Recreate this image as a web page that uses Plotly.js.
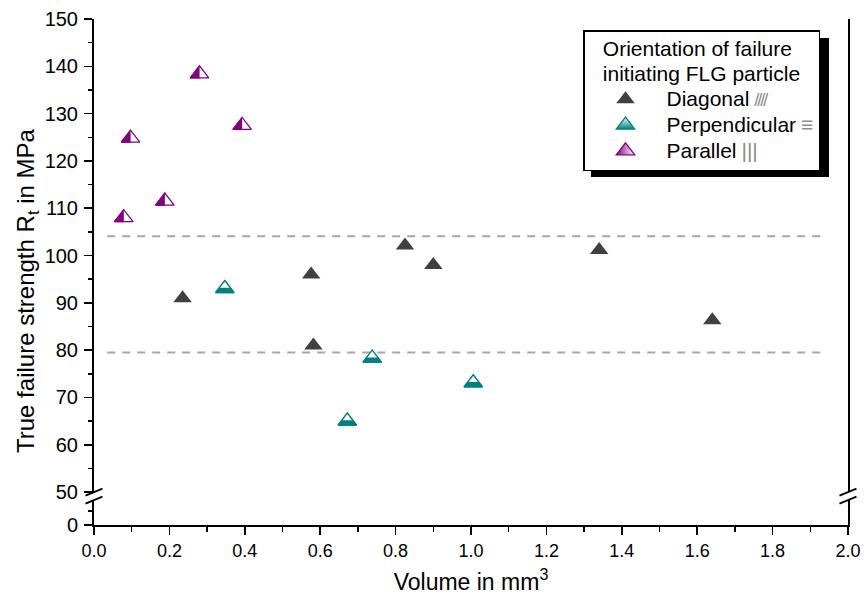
<!DOCTYPE html>
<html><head><meta charset="utf-8">
<script src="https://cdn.plot.ly/plotly-3.0.1.min.js"></script>
<style>html,body{margin:0;padding:0;background:#fff}</style>
</head><body>
<div id="chart" style="width:864px;height:601px"></div>
<script>
// ---- data ----
const seriesNames = ['Diagonal', 'Perpendicular', 'Parallel'];
const hatchGlyphs = ['////', '\u2261', '|||'];
const legendTitleLines = ['Orientation of failure', 'initiating FLG particle'];
const diagonalVolume = [0.235, 0.576, 0.582, 0.825, 0.900, 1.340, 1.640];
const diagonalStrength = [91.0, 96.0, 81.0, 102.1, 98.0, 101.2, 86.3];
const perpendicularVolume = [0.347, 0.672, 0.738, 1.006];
const perpendicularStrength = [93.0, 65.0, 78.3, 73.1];
const parallelVolume = [0.079, 0.097, 0.188, 0.280, 0.393];
const parallelStrength = [108.0, 124.8, 111.5, 138.4, 127.5];
const referenceLevels = [104.1, 79.5];
const referenceSpan = [0.035, 1.945];
const xTickValues = [0.0, 0.2, 0.4, 0.6, 0.8, 1.0, 1.2, 1.4, 1.6, 1.8, 2.0];
const yTickValues = [50, 60, 70, 80, 90, 100, 110, 120, 130, 140, 150];
const lowerTickValues = [0];

// ---- styling ----
const FONT = 'Liberation Sans, Arial, sans-serif';
const DARK = '#404040', TEAL = '#008080', PURPLE = '#800080', HATCH = '#8c8c8c';
const MS = 16;
const big = t => '<span style="font-size:21px">' + t + '</span>';
const legendLabel = i => big(seriesNames[i]) + ' <span style="color:' + HATCH +
  (i === 0 ? ';font-size:18px;letter-spacing:-2px' : ';font-size:21px') + '">' + hatchGlyphs[i] + '</span>';

const traces = [
  {type:'scatter', mode:'markers', name: legendLabel(0), x: diagonalVolume, y: diagonalStrength,
   marker:{symbol:'triangle-up', size:MS, color:DARK, line:{width:0}}},
  {type:'scatter', mode:'markers', name: legendLabel(1), x: perpendicularVolume, y: perpendicularStrength,
   marker:{symbol:'triangle-up', size:MS, color:'#ffffff', gradient:{type:'vertical', color:TEAL}, line:{color:TEAL, width:1.3}}},
  {type:'scatter', mode:'markers', name: legendLabel(2), x: parallelVolume, y: parallelStrength,
   marker:{symbol:'triangle-up', size:MS, color:PURPLE, gradient:{type:'horizontal', color:'#ffffff'}, line:{color:PURPLE, width:1.3}}},
  // perpendicular: solid base, white upper part, outline
  {type:'scatter', mode:'markers', showlegend:false, x: perpendicularVolume, y: perpendicularStrength,
   marker:{symbol:'triangle-up', size:MS, color:TEAL, line:{width:0}}},
  {type:'scatter', mode:'markers', showlegend:false, x: perpendicularVolume, y: perpendicularStrength,
   marker:{symbol:'triangle-down', size:MS*0.6, angle:180, standoff:MS*0.2, color:'#ffffff', line:{width:0}}},
  {type:'scatter', mode:'markers', showlegend:false, x: perpendicularVolume, y: perpendicularStrength,
   marker:{symbol:'triangle-up-open', size:MS, color:TEAL, line:{color:TEAL, width:1.3}}},
  // parallel: solid base, white right half, outline
  {type:'scatter', mode:'markers', showlegend:false, x: parallelVolume, y: parallelStrength,
   marker:{symbol:'triangle-up', size:MS, color:PURPLE, line:{width:0}}},
  {type:'scatter', mode:'markers', showlegend:false, x: parallelVolume, y: parallelStrength,
   marker:{symbol:'square', size:17, angle:270, standoff:8.5, color:'#ffffff', line:{width:0}}},
  {type:'scatter', mode:'markers', showlegend:false, x: parallelVolume, y: parallelStrength,
   marker:{symbol:'triangle-up-open', size:MS, color:PURPLE, line:{color:PURPLE, width:1.3}}},
  // empty trace that establishes the lower (below-break) axis segment
  {type:'scatter', mode:'markers', showlegend:false, x: [], y: [], xaxis:'x', yaxis:'y2', hoverinfo:'skip'}
];

const LOWER_TOP = 0.049, UPPER_BOTTOM = 0.065;
const axisCommon = {showline:true, linewidth:2, linecolor:'black', showgrid:false, zeroline:false,
  ticks:'outside', ticklen:8, tickwidth:1.5, tickcolor:'black'};
const minorCommon = {ticks:'outside', ticklen:4.5, tickwidth:1.5, tickcolor:'black', showgrid:false};
const yTickFont = {size:20, family:FONT, color:'black'};

const slash = (xa, ya) => ({type:'line', xref:'paper', yref:'paper', xsizemode:'pixel', ysizemode:'pixel',
  xanchor:xa, yanchor:ya, x0:-8.5, x1:8.5, y0:-3.5, y1:3.5, line:{color:'black', width:1.8}, layer:'above'});

const shapes = referenceLevels.map(v => ({type:'line', xref:'x', yref:'y', x0:referenceSpan[0], x1:referenceSpan[1],
  y0:v, y1:v, line:{color:'#a6a6a6', width:2, dash:'8px,7px'}, layer:'below'}));
shapes.push(slash(0, UPPER_BOTTOM), slash(0, LOWER_TOP), slash(1, UPPER_BOTTOM), slash(1, LOWER_TOP));
// legend drop shadow
shapes.push({type:'rect', xref:'paper', yref:'paper', x0:(591-94)/754, x1:(829-94)/754, y0:(525-177)/506, y1:(525-38)/506,
  fillcolor:'black', line:{width:0}, layer:'below'});

const layout = {
  width:864, height:601,
  margin:{l:94, r:16, t:19, b:76, pad:0},
  paper_bgcolor:'white', plot_bgcolor:'white',
  font:{family:FONT, color:'black', size:18},
  showlegend:true,
  xaxis: Object.assign({}, axisCommon, {range:[0,2], anchor:'y2', tickvals:xTickValues, tickformat:'.1f',
    tickfont:{size:18, family:FONT, color:'black'},
    minor: Object.assign({dtick:0.1, tick0:0}, minorCommon),
    title:{text:'Volume in mm<sup>3</sup>', font:{size:23, family:FONT, color:'black'}, standoff:14}}),
  xaxis2:{overlaying:'x', anchor:'y', side:'top', range:[0,2], showline:true, linewidth:2, linecolor:'black',
    showticklabels:false, ticks:'', showgrid:false, zeroline:false},
  yaxis: Object.assign({}, axisCommon, {domain:[UPPER_BOTTOM,1], range:[50,150], anchor:'x', tickvals:yTickValues,
    tickfont:yTickFont, ticklabelstandoff:2, mirror:true, minor: Object.assign({dtick:5, tick0:50}, minorCommon)}),
  yaxis2: Object.assign({}, axisCommon, {domain:[0,LOWER_TOP], range:[0,45], anchor:'x', tickvals:lowerTickValues,
    tickfont:yTickFont, ticklabelstandoff:2, mirror:true, minor: Object.assign({tickvals:[25]}, minorCommon)}),
  legend:{x:(583-94)/754, xanchor:'left', y:(525-30)/506, yanchor:'top', bgcolor:'white', bordercolor:'black', borderwidth:1.5,
    font:{size:17.5, family:FONT, color:'black'}, itemwidth:72, tracegroupgap:0,
    title:{text:legendTitleLines.map(big).join('<br>'), side:'top center', font:{size:19.2, family:FONT, color:'black'}}},
  annotations:[{text:'True failure strength R<sub>t</sub> in MPa', xref:'paper', yref:'paper', x:(27-94)/754, y:(525-291)/506,
    xanchor:'center', yanchor:'middle', textangle:-90, showarrow:false, font:{size:24, family:FONT, color:'black'}}],
  shapes: shapes
};

Plotly.newPlot('chart', traces, layout, {staticPlot:true, displayModeBar:false});
</script>
</body></html>
